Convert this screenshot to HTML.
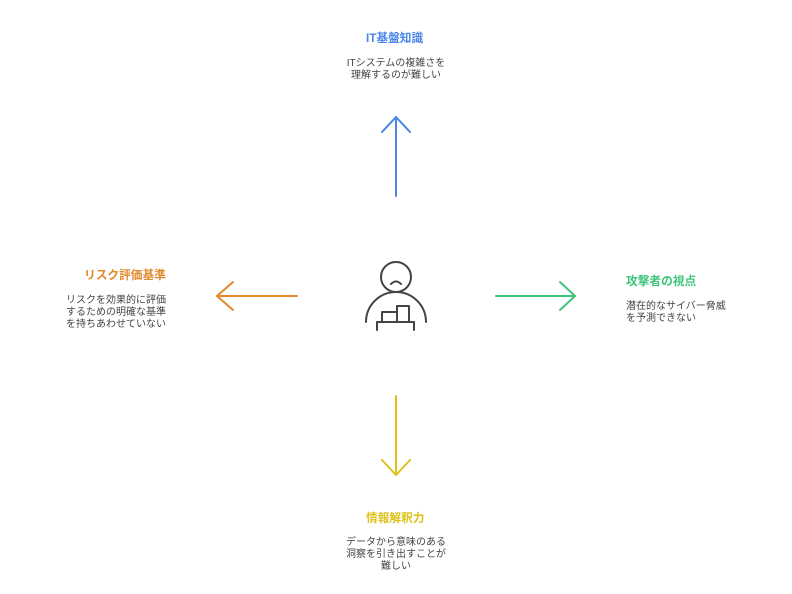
<!DOCTYPE html>
<html><head><meta charset="utf-8"><style>
html,body{margin:0;padding:0;background:#fff;}
body{width:792px;height:594px;position:relative;overflow:hidden;font-family:"Liberation Sans","Noto Sans CJK JP",sans-serif;}
.t{position:absolute;font-weight:bold;font-size:11.7px;line-height:14px;white-space:nowrap;}
.d{position:absolute;font-size:10px;line-height:12px;color:#444;white-space:nowrap;}
</style></head><body>
<svg width="792" height="594" style="position:absolute;left:0;top:0" fill="none" stroke-width="2" stroke-linecap="round" stroke-linejoin="round">
<g stroke="#4a86e8"><line x1="396" y1="196" x2="396" y2="117"/><polyline points="382,132 396,117 410,132"/></g>
<g stroke="#e08a2c"><line x1="297" y1="296" x2="217" y2="296"/><polyline points="233,282 217,296 233,310"/></g>
<g stroke="#3ec47a"><line x1="496" y1="296" x2="575" y2="296"/><polyline points="560,282 575,296 560,310"/></g>
<g stroke="#ddc21a"><line x1="396" y1="396" x2="396" y2="475"/><polyline points="382,460 396,475 410,460"/></g>
<g stroke="#444" stroke-width="2">
<circle cx="396" cy="277" r="15"/>
<path d="M391 284 Q396 279 401 284"/>
<path d="M366 322 A30 30 0 0 1 426 322"/>
<rect x="382" y="312" width="15" height="10"/>
<rect x="397" y="306" width="12" height="16"/>
<polyline points="377,330 377,322 414,322 414,330"/>
</g>
</svg>
<div class="t" style="left:366px;top:32px;color:#4a86e8">IT基盤知識</div>
<div class="d" style="left:336px;top:58px;text-align:center;width:120px">ITシステムの複雑さを<br>理解するのが難しい</div>
<div class="t" style="left:84px;top:269px;color:#e08a2c">リスク評価基準</div>
<div class="d" style="left:66px;top:295px">リスクを効果的に評価<br>するための明確な基準<br>を持ちあわせていない</div>
<div class="t" style="left:626px;top:275px;color:#3ec47a">攻撃者の視点</div>
<div class="d" style="left:626px;top:301px">潜在的なサイバー脅威<br>を予測できない</div>
<div class="t" style="left:366px;top:512px;color:#ddc21a">情報解釈力</div>
<div class="d" style="left:336px;top:537px;text-align:center;width:120px">データから意味のある<br>洞察を引き出すことが<br>難しい</div>
</body></html>
